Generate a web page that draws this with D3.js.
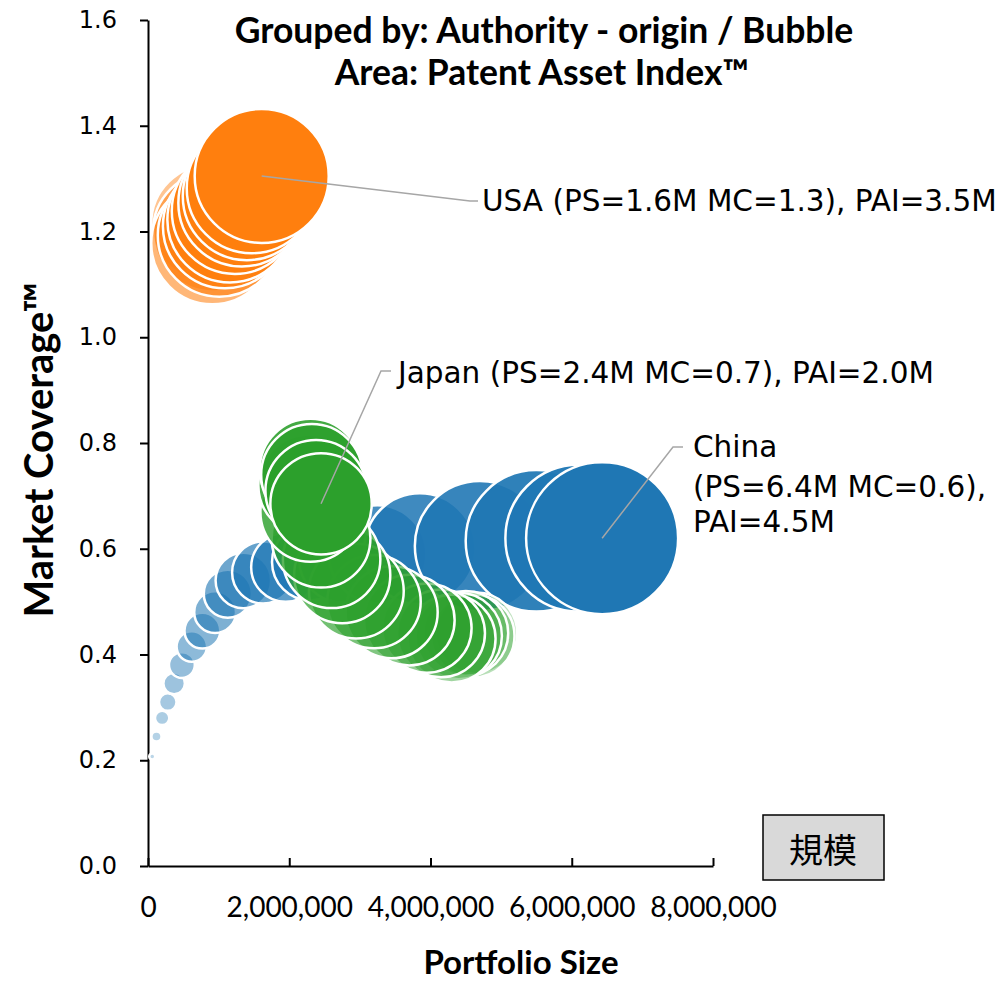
<!DOCTYPE html>
<html lang="ja">
<head>
<meta charset="UTF-8">
<title>Bubble chart</title>
<script src="https://cdnjs.cloudflare.com/ajax/libs/d3/7.8.5/d3.min.js"></script>
<style>
    body { margin: 0; background: #fff; }
    svg { display: block; }
    .axis path, .axis line { stroke: #000; stroke-width: 2px; }
    .axis text { fill: #000; }
    .leader { fill: none; stroke: #a6a6a6; stroke-width: 1.5px; }
    .lbl { font-family: "DejaVu Sans", sans-serif; font-size: 29.5px; fill: #000; }
</style>
</head>
<body>
<svg width="1008" height="981"></svg>
<script>
// portfolio size in millions, market coverage, PAI in millions (oldest -> newest)
const chinaPS  = [0.06, 0.12, 0.2, 0.28, 0.37, 0.48, 0.62, 0.77, 0.95, 1.13, 1.35, 1.63, 1.95, 2.3, 2.75, 3.25, 3.85, 4.7, 5.5, 6.1, 6.43];
const chinaMC  = [0.207, 0.245, 0.28, 0.31, 0.345, 0.38, 0.415, 0.445, 0.48, 0.515, 0.54, 0.555, 0.565, 0.575, 0.58, 0.59, 0.6, 0.605, 0.615, 0.62, 0.62];
const chinaPAI = [0.007, 0.02, 0.04, 0.06, 0.09, 0.13, 0.18, 0.25, 0.34, 0.45, 0.6, 0.75, 0.93, 1.15, 1.45, 1.85, 2.4, 3.3, 3.9, 4.2, 4.5];

const japanPS  = [4.65, 4.6, 4.5, 4.4, 4.3, 4.15, 3.95, 3.7, 3.45, 3.2, 2.95, 2.75, 2.6, 2.45, 2.3, 2.28, 2.3, 2.32, 2.38, 2.45];
const japanMC  = [0.44, 0.435, 0.44, 0.435, 0.43, 0.44, 0.45, 0.465, 0.48, 0.5, 0.52, 0.55, 0.58, 0.62, 0.67, 0.72, 0.75, 0.74, 0.71, 0.685];
const japanPAI = [1.3, 1.35, 1.4, 1.45, 1.5, 1.5, 1.55, 1.6, 1.65, 1.7, 1.75, 1.8, 1.85, 1.9, 1.95, 2.0, 2.0, 2.0, 2.0, 2.0];

const usaPS  = [0.88, 0.92, 0.91, 1.01, 1.09, 1.16, 1.23, 1.33, 1.4, 1.47, 1.61];
const usaMC  = [1.215, 1.2, 1.178, 1.193, 1.21, 1.222, 1.239, 1.254, 1.267, 1.282, 1.305];
const usaPAI = [2.7, 2.8, 2.9, 2.95, 3.0, 3.05, 3.1, 3.15, 3.2, 3.3, 3.5];

const xTicks = [0, 2, 4, 6, 8];
const xTickLabels = ["0", "2,000,000", "4,000,000", "6,000,000", "8,000,000"];
const yTicks = [0, 0.2, 0.4, 0.6, 0.8, 1.0, 1.2, 1.4, 1.6];

const series = [
    { name: "China", ps: chinaPS, mc: chinaMC, pai: chinaPAI, color: "#1f77b4", op0: 0.3 },
    { name: "Japan", ps: japanPS, mc: japanMC, pai: japanPAI, color: "#2ca02c", op0: 0.3 },
    { name: "USA",   ps: usaPS,   mc: usaMC,   pai: usaPAI,   color: "#ff7f0e", op0: 0.45 }
];

const svg = d3.select("svg");

const x = d3.scaleLinear().domain([0, 8]).range([148, 713]);
const y = d3.scaleLinear().domain([0, 1.6]).range([866, 20]);
const r = d3.scaleSqrt().domain([0, 4.5]).range([0, 76]);

// axes
svg.append("g")
    .attr("class", "axis")
    .attr("transform", "translate(0,866)")
    .call(d3.axisBottom(x).tickValues(xTicks).tickFormat((d, i) => xTickLabels[i])
        .tickSizeInner(-8).tickSizeOuter(0).tickPadding(31))
    .call(g => g.selectAll("text").style("font-family", "Lato, sans-serif").style("font-size", "28px"));

svg.append("g")
    .attr("class", "axis")
    .attr("transform", "translate(148,0)")
    .call(d3.axisLeft(y).tickValues(yTicks).tickFormat(d3.format(".1f"))
        .tickSizeInner(8).tickSizeOuter(0).tickPadding(23))
    .call(g => g.selectAll("text").style("font-family", "'DejaVu Sans', sans-serif").style("font-size", "24px"));

// bubbles
series.forEach(s => {
    const n = s.ps.length;
    const op = d3.scaleLinear().domain([0, n - 1]).range([s.op0, 1]);
    const pts = s.ps.map((v, i) => ({ ps: v, mc: s.mc[i], pai: s.pai[i], i: i }));
    svg.append("g").selectAll("circle")
        .data(pts)
        .enter()
        .append("circle")
        .attr("cx", d => x(d.ps))
        .attr("cy", d => y(d.mc))
        .attr("r", d => r(d.pai))
        .attr("fill", s.color)
        .attr("fill-opacity", d => op(d.i))
        .attr("stroke", "#fff")
        .attr("stroke-width", 2.5);
});

// callouts
function last(s) {
    const k = s.ps.length - 1;
    return [x(s.ps[k]), y(s.mc[k])];
}
const callouts = [
    { s: series[2], elbow: [470, 201], end: [478, 201], tx: 482, lines: [[201, "USA (PS=1.6M MC=1.3), PAI=3.5M"]] },
    { s: series[1], elbow: [381, 371], end: [391, 371], tx: 398, lines: [[373, "Japan (PS=2.4M MC=0.7), PAI=2.0M"]] },
    { s: series[0], elbow: [673, 447], end: [683, 447], tx: 693, lines: [[447, "China"], [487, "(PS=6.4M MC=0.6),"], [522, "PAI=4.5M"]] }
];
callouts.forEach(c => {
    svg.append("path")
        .attr("class", "leader")
        .attr("d", d3.line()([last(c.s), c.elbow, c.end]));
    c.lines.forEach(l => {
        svg.append("text")
            .attr("class", "lbl")
            .attr("x", c.tx)
            .attr("y", l[0])
            .attr("dominant-baseline", "central")
            .text(l[1]);
    });
});

// title
const title = svg.append("text")
    .attr("text-anchor", "middle")
    .style("font-family", "Lato, sans-serif")
    .style("font-weight", "bold")
    .style("font-size", "35.5px");
title.append("tspan").attr("x", 544).attr("y", 43).text("Grouped by: Authority - origin / Bubble");
title.append("tspan").attr("x", 542).attr("y", 85).text("Area: Patent Asset Index™");

// axis titles
svg.append("text")
    .attr("transform", "translate(53,450) rotate(-90)")
    .attr("text-anchor", "middle")
    .style("font-family", "Lato, sans-serif")
    .style("font-weight", "bold")
    .style("font-size", "40px")
    .text("Market Coverage™");

svg.append("text")
    .attr("x", 521)
    .attr("y", 974)
    .attr("text-anchor", "middle")
    .style("font-family", "Lato, sans-serif")
    .style("font-weight", "bold")
    .style("font-size", "33px")
    .text("Portfolio Size");

// 規模 box
svg.append("rect")
    .attr("x", 763).attr("y", 815).attr("width", 121).attr("height", 65)
    .attr("fill", "#d9d9d9").attr("stroke", "#000").attr("stroke-width", 1.5);
svg.append("text")
    .attr("x", 823).attr("y", 848)
    .attr("text-anchor", "middle")
    .attr("dominant-baseline", "central")
    .style("font-family", "'Noto Sans CJK JP', sans-serif")
    .style("font-size", "34px")
    .text("規模");
</script>
</body>
</html>
